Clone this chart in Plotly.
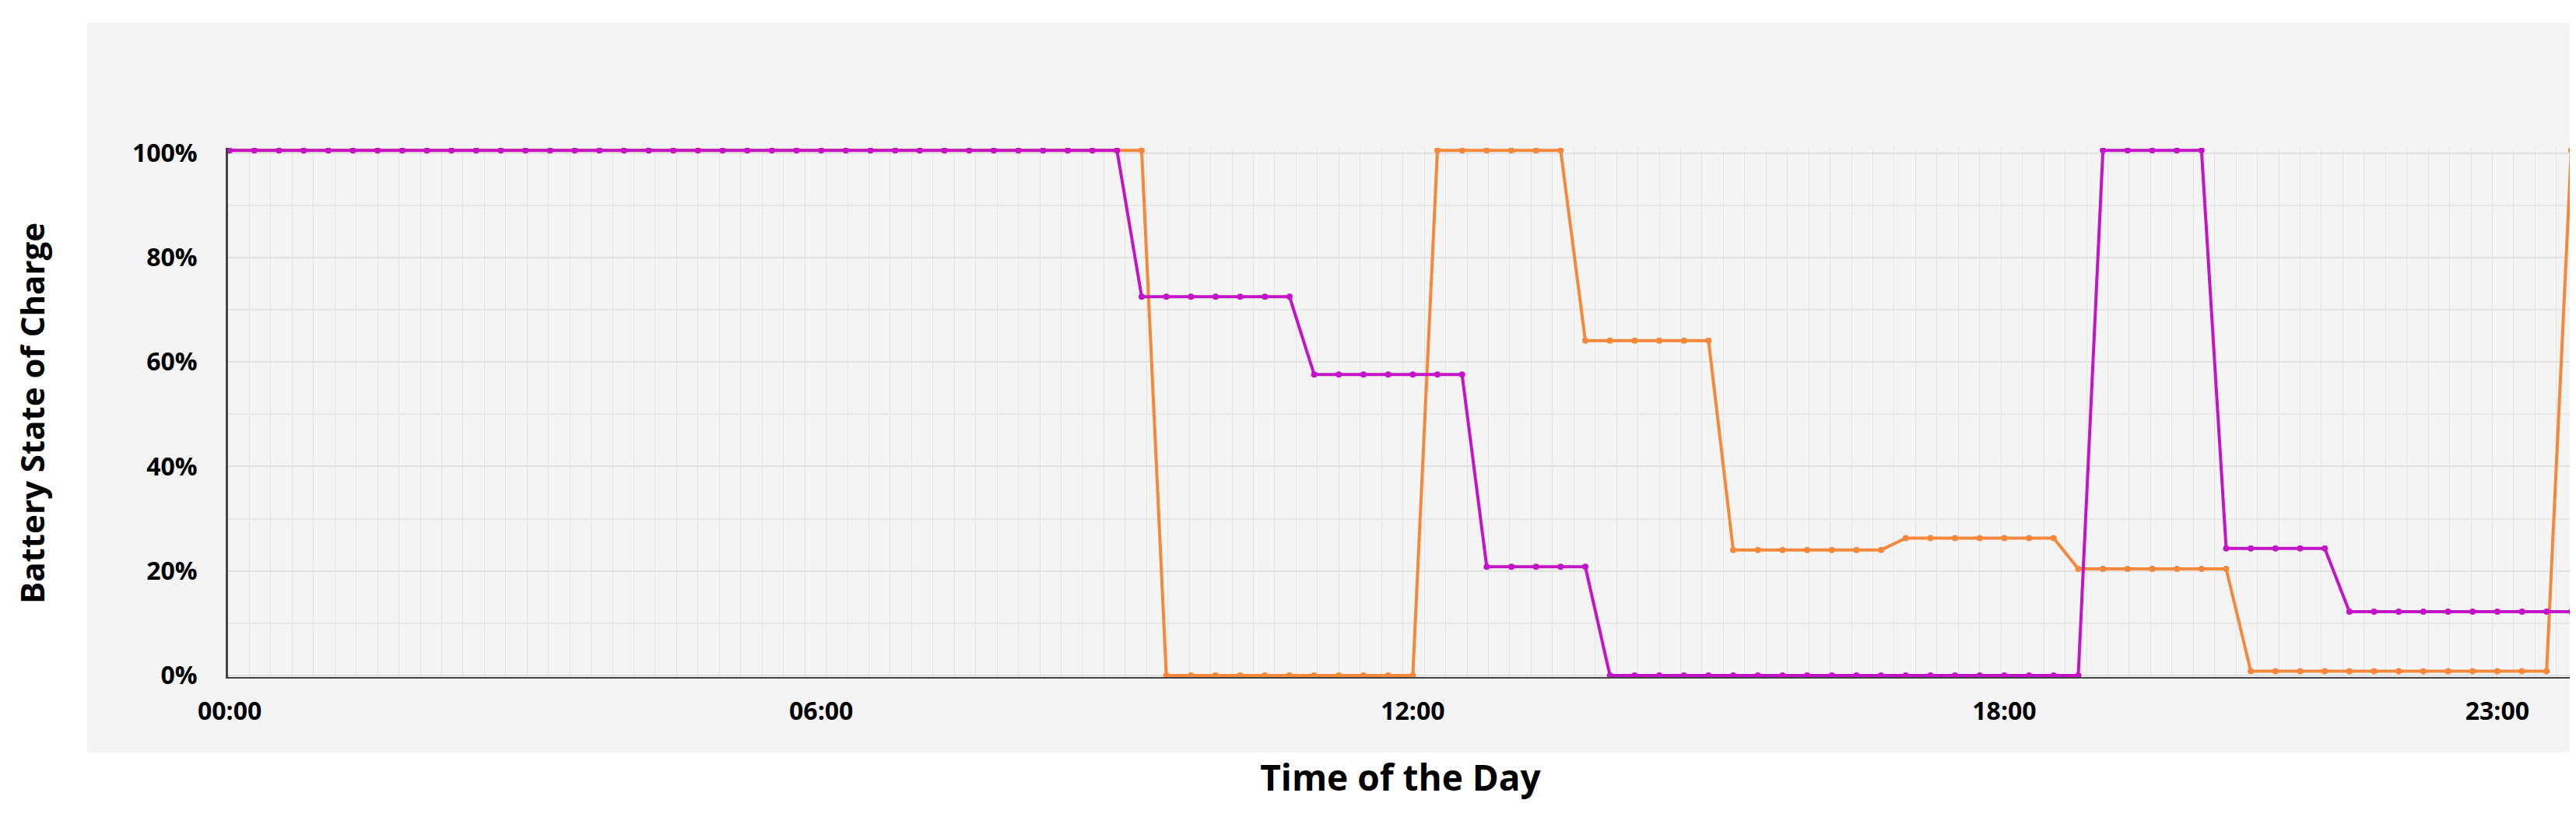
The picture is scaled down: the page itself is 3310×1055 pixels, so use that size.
import pandas as pd
import plotly.graph_objects as go

# 15-minute samples over one day
times = pd.date_range("2024-01-01 00:00", periods=96, freq="15min")

# battery state of charge (%), one list per battery
purple_soc = ([100.5] * 37 + [72.5] * 7 + [57.6] * 7 + [20.8] * 5 + [0] * 20
              + [100.5] * 5 + [24.3] * 5 + [12.2] * 10)
orange_soc = ([100.5] * 38 + [0] * 11 + [100.5] * 6 + [64.1] * 6 + [24.0] * 7
              + [26.3] * 7 + [20.4] * 7 + [0.8] * 13 + [100.5])

tick_vals = ["2024-01-01 00:00", "2024-01-01 06:00", "2024-01-01 12:00",
             "2024-01-01 18:00", "2024-01-01 23:00"]
tick_text = ["00:00", "06:00", "12:00", "18:00", "23:00"]

purple = "#c414c8"
orange = "#f5883a"

fig = go.Figure()
fig.add_trace(go.Scatter(x=times, y=orange_soc, mode="lines+markers", name="Battery 2",
                         line=dict(color=orange, width=4), marker=dict(color=orange, size=8)))
fig.add_trace(go.Scatter(x=times, y=purple_soc, mode="lines+markers", name="Battery 1",
                         line=dict(color=purple, width=4), marker=dict(color=purple, size=8)))

# grey panel behind the chart (stops above the x title)
fig.add_shape(type="rect", xref="paper", yref="paper", x0=-0.060, x1=1.01, y0=-0.139, y1=1.236,
              fillcolor="#f4f4f4", line=dict(width=0), layer="below")

fig.update_layout(
    width=3310, height=1055,
    margin=dict(l=285, r=12, t=182, b=191),
    paper_bgcolor="white", plot_bgcolor="#f7f7f7",
    showlegend=False,
    font=dict(family="Open Sans", color="black"),
)
fig.update_xaxes(
    type="date",
    range=["2023-12-31 23:59", "2024-01-01 23:46"],
    tickvals=tick_vals, ticktext=tick_text,
    tickfont=dict(size=32, family="Open Sans", weight="bold"),
    ticks="", ticklabelstandoff=20,
    showgrid=False,
    minor=dict(showgrid=True, gridcolor="#e4e4e4", gridwidth=1, dtick=13 * 60 * 1000),
    showline=False, zeroline=False,
    title=dict(text="Time of the Day", font=dict(size=46, family="Open Sans", weight="bold"),
               standoff=50),
)
fig.update_yaxes(
    range=[-0.6, 101], tickvals=[0, 20, 40, 60, 80, 100],
    ticktext=["0%", "20%", "40%", "60%", "80%", "100%"],
    tickfont=dict(size=32, family="Open Sans", weight="bold"),
    ticks="", ticklabelstandoff=30,
    showgrid=True, gridcolor="#e2e2e2", gridwidth=2,
    minor=dict(showgrid=True, gridcolor="#e8e8e8", dtick=10),
    showline=True, linecolor="#444", linewidth=3, zeroline=False,
    title=dict(text="Battery State of Charge", font=dict(size=42, family="Open Sans", weight="bold"),
               standoff=100),
)
# dark baseline at 0%
fig.add_hline(y=-0.6, line=dict(color="#444", width=4))

fig.write_html("out.html")
